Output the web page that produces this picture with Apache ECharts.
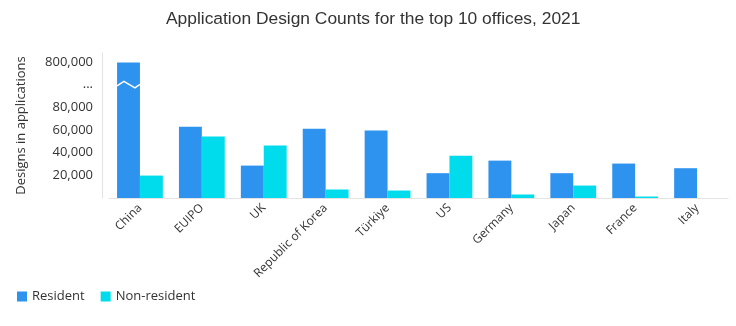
<!DOCTYPE html>
<html>
<head>
<meta charset="utf-8">
<script src="https://cdn.jsdelivr.net/npm/echarts@6/dist/echarts.min.js"></script>
<style>
html,body{margin:0;padding:0;background:#fff;}
#chart{width:736px;height:326px;}
</style>
</head>
<body>
<div id="chart"></div>
<script>
var categories = ['China', 'EUIPO', 'UK', 'Republic of Korea', 'Türkiye', 'US', 'Germany', 'Japan', 'France', 'Italy'];
var resident = [785000, 63000, 28600, 61200, 59500, 21900, 33000, 21900, 30400, 26300];
var nonResident = [19800, 54200, 46300, 7500, 6600, 37400, 3100, 11000, 1300, 0];
var tickLabels = {20000: '20,000', 40000: '40,000', 60000: '60,000', 80000: '80,000', 100000: '...', 120000: '800,000'};

// broken axis: values up to 100,000 linear, 100,000..800,000 compressed into 100,000..120,000
var BREAK = 100000, TOP = 800000, SPAN = 20000;
function toDisplay(v) {
  return v <= BREAK ? v : BREAK + (v - BREAK) * SPAN / (TOP - BREAK);
}

var residentDisp = resident.map(toDisplay);
var nonResidentDisp = nonResident.map(toDisplay);

var chart = echarts.init(document.getElementById('chart'));
var font = '"Open Sans", "Noto Sans", sans-serif';

chart.setOption({
  animation: false,
  title: {
    text: 'Application Design Counts for the top 10 offices, 2021',
    left: 161,
    top: 6,
    textStyle: {fontFamily: '"Liberation Sans", Arial, sans-serif', fontSize: 17.4, fontWeight: 'normal', color: '#333'}
  },
  legend: {
    left: 12,
    top: 285,
    itemWidth: 10,
    itemHeight: 10,
    itemGap: 16,
    icon: 'rect',
    textStyle: {fontFamily: font, fontSize: 13, color: '#333'},
    data: ['Resident', 'Non-resident']
  },
  grid: {left: 109, right: 8, top: 53, bottom: 128, containLabel: false},
  xAxis: {
    type: 'category',
    data: categories,
    axisLine: {lineStyle: {color: '#e3e3e3'}},
    axisTick: {show: false},
    axisLabel: {rotate: 45, margin: 8, fontFamily: font, fontSize: 12, color: '#333', interval: 0}
  },
  yAxis: {
    type: 'value',
    min: 0,
    max: 128000,
    interval: 20000,
    offset: 7,
    name: 'Designs in applications',
    nameLocation: 'middle',
    nameGap: 74,
    nameTextStyle: {fontFamily: font, fontSize: 13, color: '#333'},
    axisLine: {show: true, lineStyle: {color: '#e3e3e3'}},
    axisTick: {show: false},
    splitLine: {show: false},
    axisLabel: {
      margin: 9,
      fontFamily: font, fontSize: 13, color: '#333',
      formatter: function (v) { return tickLabels[v] || ''; }
    }
  },
  series: [
    {
      name: 'Resident', type: 'bar', data: residentDisp,
      barGap: 0, barCategoryGap: '26%',
      itemStyle: {color: '#2e93ee'}
    },
    {
      name: 'Non-resident', type: 'bar', data: nonResidentDisp,
      itemStyle: {color: '#00dceb'}
    },
    {
      type: 'custom',
      name: 'break',
      silent: true,
      data: resident.map(function (v, i) { return [i, v]; }),
      renderItem: function (params, api) {
        var idx = api.value(0), v = api.value(1);
        if (v <= BREAK) return null;
        var band = api.size([1, 0])[0];
        var w = band * 0.74 / 2;
        var c = api.coord([idx, BREAK]);
        var x0 = c[0] - w;
        var pts = [
          [x0, api.coord([idx, 98900])[1]],
          [x0 + w * 0.3, api.coord([idx, 102900])[1]],
          [x0 + w * 0.78, api.coord([idx, 97200])[1]],
          [x0 + w, api.coord([idx, 100300])[1]]
        ];
        return {type: 'polyline', shape: {points: pts}, style: {stroke: '#fff', lineWidth: 1.5, fill: null}};
      },
      z: 10
    }
  ]
});
</script>
</body>
</html>
